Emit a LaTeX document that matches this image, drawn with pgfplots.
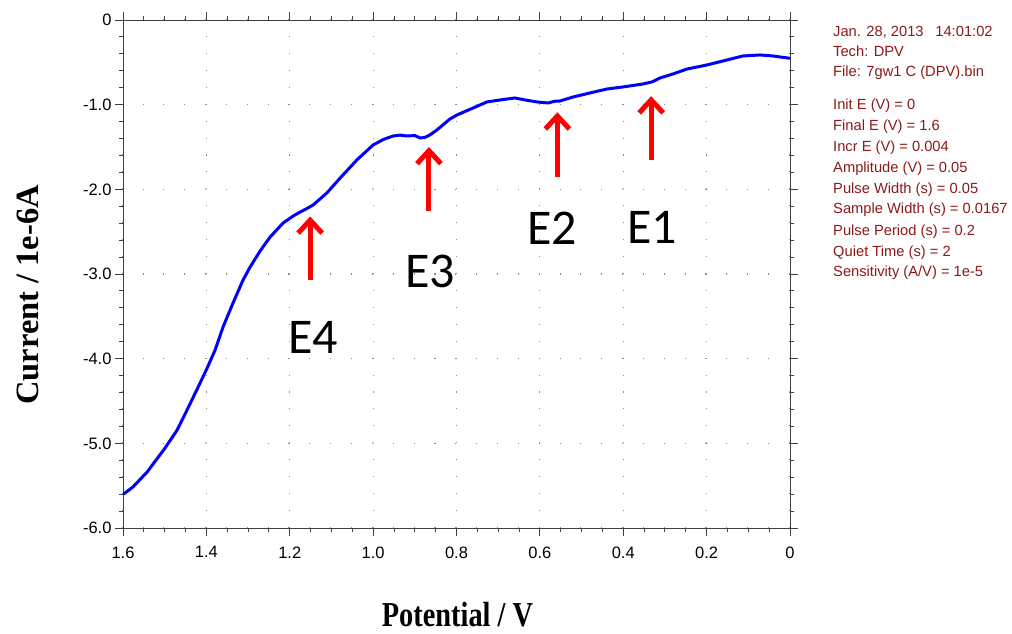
\documentclass[border=0pt]{standalone}
\usepackage{pgfplots}
\pgfplotsset{compat=1.18}
\usepackage{fontspec}
\setmainfont{Liberation Sans}
\newfontfamily\timesbf{Liberation Serif}
\newfontfamily\calib{Carlito}
\usetikzlibrary{arrows.meta}

\definecolor{dpvblue}{RGB}{0,0,255}
\definecolor{infored}{RGB}{140,25,25}
\definecolor{arrowred}{RGB}{255,0,0}

% DPV scan, current in units of 1e-6 A
\pgfplotstableread{
E      I
1.600 -5.600
1.595 -5.586
1.576 -5.515
1.542 -5.338
1.499 -5.055
1.470 -4.842
1.444 -4.583
1.415 -4.287
1.398 -4.110
1.379 -3.898
1.360 -3.626
1.336 -3.342
1.312 -3.071
1.295 -2.917
1.270 -2.720
1.247 -2.563
1.216 -2.398
1.190 -2.310
1.175 -2.268
1.160 -2.230
1.144 -2.185
1.111 -2.043
1.079 -1.866
1.039 -1.653
1.000 -1.476
0.975 -1.410
0.952 -1.370
0.935 -1.360
0.919 -1.370
0.900 -1.365
0.887 -1.394
0.875 -1.385
0.864 -1.358
0.850 -1.310
0.835 -1.250
0.816 -1.170
0.799 -1.122
0.760 -1.039
0.727 -0.968
0.696 -0.945
0.660 -0.921
0.635 -0.945
0.607 -0.968
0.580 -0.980
0.565 -0.960
0.552 -0.957
0.520 -0.909
0.480 -0.862
0.439 -0.815
0.401 -0.791
0.353 -0.756
0.330 -0.730
0.312 -0.685
0.281 -0.638
0.247 -0.579
0.199 -0.531
0.151 -0.472
0.113 -0.425
0.072 -0.413
0.041 -0.425
0.005 -0.449
0.000 -0.450
}\dpvdata

\begin{document}
\begin{tikzpicture}
\useasboundingbox (-123pt,-106pt) rectangle (889pt,528pt);
\begin{axis}[
  at={(0pt,0pt)}, anchor=south west,
  scale only axis, width=667pt, height=508pt,
  xmin=0, xmax=1.6, ymin=-6, ymax=0,
  x dir=reverse,
  xtick={0,0.2,0.4,0.6,0.8,1.0,1.2,1.4,1.6},
  xticklabels={0,0.2,0.4,0.6,0.8,1.0,1.2,1.4,1.6},
  ytick={-6,-5,-4,-3,-2,-1,0},
  yticklabels={-6.0,-5.0,-4.0,-3.0,-2.0,-1.0,0},
  minor x tick num=3, minor y tick num=4,
  tick align=outside,
  major tick length=8pt, minor tick length=4pt,
  axis line style={black!75, line width=0.9pt},
  every tick/.style={black!75, line width=0.9pt},
  ticklabel style={font=\fontsize{16.5}{19}\selectfont},
  xticklabel style={yshift=-7pt},
  grid=major,
  x grid style={black!45, line width=1.1pt, dash pattern=on 1.1pt off 15.83pt},
  y grid style={black!45, line width=1.1pt, dash pattern=on 1.1pt off 19.75pt},
  xlabel={\scalebox{0.81}[1]{Potential / V}},
  xlabel style={font=\timesbf\bfseries\fontsize{35}{40}\selectfont,
    at={(axis description cs:0.5015,-0.1930)}, anchor=base},
  ylabel={Current / 1e-6A},
  ylabel style={font=\timesbf\bfseries\fontsize{32.5}{38}\selectfont,
    at={(axis description cs:-0.1274,0.459)}, anchor=base, rotate=0},
]
\addplot[dpvblue, line width=3pt, line join=round] table[x=E, y=I] {\dpvdata};

% peak markers
\begin{scope}[arrowred, line width=5pt,
  -{Straight Barb[length=13pt, width=24pt, line width=5pt]}]
  \draw (axis cs:0.333,-1.653) -- (axis cs:0.333,-0.90);
  \draw (axis cs:0.558,-1.850) -- (axis cs:0.558,-1.09);
  \draw (axis cs:0.866,-2.252) -- (axis cs:0.866,-1.50);
  \draw (axis cs:1.151,-3.071) -- (axis cs:1.151,-2.32);
\end{scope}
\begin{scope}[every node/.style={font=\calib\fontsize{50}{56}\selectfont, inner sep=0pt}]
  \node at (axis cs:0.331,-2.445) {E1};
  \node at (axis cs:0.571,-2.457) {E2};
  \node at (axis cs:0.8635,-2.964) {E3};
  \node at (axis cs:1.144,-3.744) {E4};
\end{scope}
\end{axis}

% instrument settings
\begin{scope}[every node/.style={anchor=base west, inner sep=0pt, text=infored,
    font=\fontsize{14.7}{17}\selectfont}]
  \node at (710pt,491.3pt) {Jan. 28, 2013\hspace{0.8em}14:01:02};
  \node at (710pt,471.3pt) {Tech: DPV};
  \node at (710pt,451.3pt) {File: 7gw1 C (DPV).bin};
  \node at (710pt,418.0pt) {Init E (V) = 0};
  \node at (710pt,397.3pt) {Final E (V) = 1.6};
  \node at (710pt,376.3pt) {Incr E (V) = 0.004};
  \node at (710pt,355.3pt) {Amplitude (V) = 0.05};
  \node at (710pt,334.7pt) {Pulse Width (s) = 0.05};
  \node at (710pt,314.0pt) {Sample Width (s) = 0.0167};
  \node at (710pt,292.3pt) {Pulse Period (s) = 0.2};
  \node at (710pt,271.3pt) {Quiet Time (s) = 2};
  \node at (710pt,251.3pt) {Sensitivity (A/V) = 1e-5};
\end{scope}
\end{tikzpicture}
\end{document}
